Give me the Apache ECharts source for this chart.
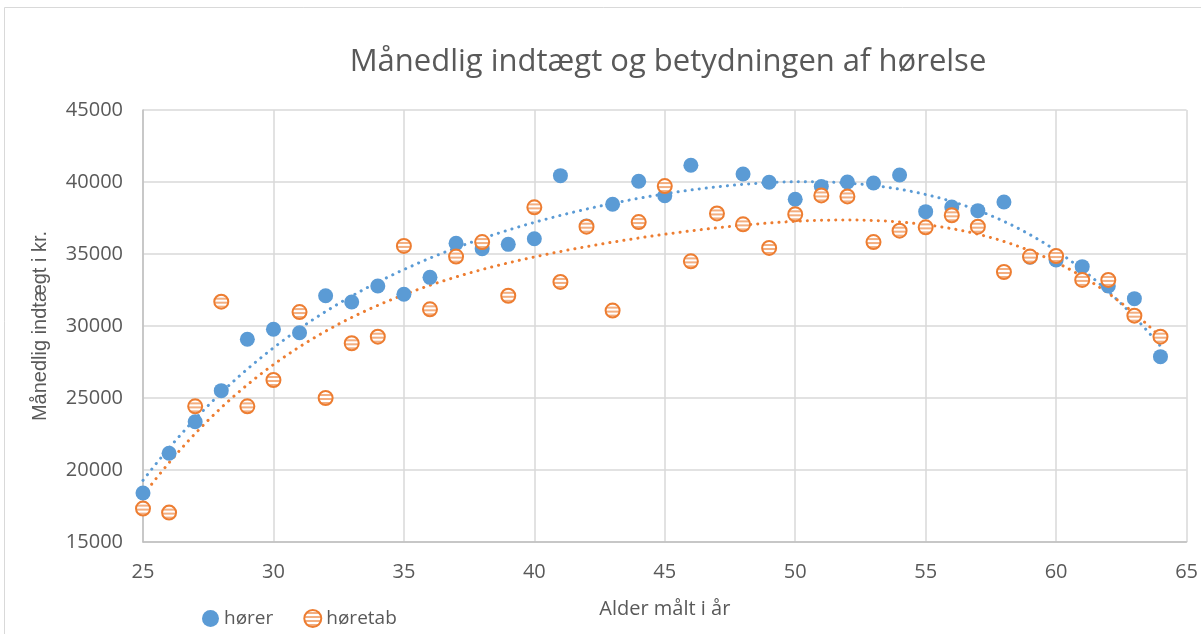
<!DOCTYPE html>
<html>
<head>
<meta charset="utf-8">
<script src="https://cdn.jsdelivr.net/npm/echarts@6/dist/echarts.min.js"></script>
<style>
  html, body { margin: 0; padding: 0; background: #fff; }
  #main { width: 1201px; height: 634px; }
</style>
</head>
<body>
<div id="main"></div>
<script>
// data
var horerAge = [25,26,27,28,29,30,31,32,33,34,35,36,37,38,39,40,41,42,43,44,45,46,48,49,50,51,52,53,54,55,56,57,58,59,60,61,62,63,64];
var horerIncome = [18400,21160,23350,25510,29080,29770,29530,32100,31670,32780,32200,33380,35740,35370,35670,36060,40440,36950,38450,40050,39050,41160,40560,39980,38800,39680,40000,39930,40490,37940,38260,38010,38610,34770,34580,34120,32780,31900,27870];

var tabAge = [25,26,27,28,29,30,31,32,33,34,35,36,37,38,39,40,41,42,43,44,45,46,47,48,49,50,51,52,53,54,55,56,57,58,59,60,61,62,63,64];
var tabIncome = [17320,17040,24420,31690,24420,26250,30970,25000,28800,29260,35560,31160,34820,35830,32100,38240,33060,36900,31070,37220,39720,34490,37820,37060,35420,37760,39070,39000,35830,36620,36850,37690,36900,33750,34820,34860,33200,33200,30720,29260];

var xTicks = [25, 30, 35, 40, 45, 50, 55, 60, 65];
var yTicks = [15000, 20000, 25000, 30000, 35000, 40000, 45000];

var blue = '#5B9BD5';
var orange = '#ED7D31';
var textColor = '#595959';

// least squares polynomial (like the excel trendline)
function polyfit(xs, ys, order) {
  var n = order + 1, A = [], i, j, k;
  for (i = 0; i < n; i++) { A.push([]); for (j = 0; j <= n; j++) A[i].push(0); }
  for (k = 0; k < xs.length; k++) {
    var x = (xs[k] - 45) / 10;
    for (i = 0; i < n; i++) {
      for (j = 0; j < n; j++) A[i][j] += Math.pow(x, i + j);
      A[i][n] += ys[k] * Math.pow(x, i);
    }
  }
  for (i = 0; i < n; i++) {
    var p = i;
    for (j = i + 1; j < n; j++) if (Math.abs(A[j][i]) > Math.abs(A[p][i])) p = j;
    var t = A[i]; A[i] = A[p]; A[p] = t;
    for (j = i + 1; j < n; j++) {
      var f = A[j][i] / A[i][i];
      for (k = i; k <= n; k++) A[j][k] -= f * A[i][k];
    }
  }
  var c = [];
  for (i = n - 1; i >= 0; i--) {
    var s = A[i][n];
    for (j = i + 1; j < n; j++) s -= A[i][j] * c[j];
    c[i] = s / A[i][i];
  }
  return c;
}
function trend(xs, ys, order) {
  var c = polyfit(xs, ys, order), out = [];
  for (var x = xs[0]; x <= xs[xs.length - 1] + 1e-9; x += 0.25) {
    var v = 0;
    for (var i = 0; i < c.length; i++) v += c[i] * Math.pow((x - 45) / 10, i);
    out.push([x, v]);
  }
  return out;
}

function zip(a, b) { return a.map(function (v, i) { return [v, b[i]]; }); }

// striped fill for the høretab markers
// (symbols are drawn at unit size and scaled by size/2, so scale the pattern back)
var tabSize = 14;
var pat = document.createElement('canvas');
pat.width = 4; pat.height = 4;
var pctx = pat.getContext('2d');
pctx.fillStyle = '#ffffff'; pctx.fillRect(0, 0, 4, 4);
pctx.fillStyle = '#F3AE80'; pctx.fillRect(0, 0, 4, 2);

var myChart = echarts.init(document.getElementById('main'));

var option = {
  backgroundColor: '#fff',
  animation: false,
  title: {
    text: 'Månedlig indtægt og betydningen af hørelse',
    left: 663, top: 42, textAlign: 'center',
    textStyle: { fontFamily: 'Open Sans', fontSize: 31, fontWeight: 'normal', color: textColor }
  },
  graphic: [{
    type: 'rect', shape: { x: 4.5, y: 7.5, width: 1210, height: 640 },
    style: { fill: 'none', stroke: '#d9d9d9', lineWidth: 1 }, silent: true
  }],
  legend: {
    data: ['hører', 'høretab'],
    left: 197, top: 604, itemWidth: 17, itemHeight: 17, itemGap: 30,
    textStyle: { fontFamily: 'Open Sans', fontSize: 19, color: textColor }
  },
  grid: { left: 143, right: 14, top: 110, bottom: 92 },
  xAxis: {
    type: 'value', min: 25, max: 65, interval: 5,
    name: 'Alder målt i år', nameLocation: 'middle', nameGap: 57,
    nameTextStyle: { fontFamily: 'Open Sans', fontSize: 20, color: textColor },
    axisLine: { show: true, lineStyle: { color: '#bfbfbf', width: 1.5 } },
    axisTick: { show: false },
    axisLabel: { fontFamily: 'Open Sans', fontSize: 20, color: textColor, margin: 20,
      formatter: function (v) { return xTicks.indexOf(v) >= 0 ? v : ''; } },
    splitLine: { show: true, lineStyle: { color: '#d9d9d9', width: 1.5 } }
  },
  yAxis: {
    type: 'value', min: 15000, max: 45000, interval: 5000,
    name: 'Månedlig indtægt i kr.', nameLocation: 'middle', nameGap: 93,
    nameTextStyle: { fontFamily: 'Liberation Sans', fontSize: 20, color: textColor },
    axisLine: { show: true, lineStyle: { color: '#bfbfbf', width: 1.5 } },
    axisTick: { show: false },
    axisLabel: { fontFamily: 'Open Sans', fontSize: 20, color: textColor, margin: 20,
      formatter: function (v) { return yTicks.indexOf(v) >= 0 ? v : ''; } },
    splitLine: { show: true, lineStyle: { color: '#d9d9d9', width: 1.5 } }
  },
  series: [
    {
      name: 'hører trend', type: 'line', data: trend(horerAge, horerIncome, 4),
      showSymbol: false, smooth: false, z: 3,
      lineStyle: { color: blue, width: 3, type: [0.1, 7], cap: 'round' }
    },
    {
      name: 'høretab trend', type: 'line', data: trend(tabAge, tabIncome, 4),
      showSymbol: false, smooth: false, z: 3,
      lineStyle: { color: orange, width: 3, type: [0.1, 7], cap: 'round' }
    },
    {
      name: 'hører', type: 'scatter', data: zip(horerAge, horerIncome),
      symbol: 'circle', symbolSize: 15, z: 4,
      itemStyle: { color: blue, opacity: 1 }
    },
    {
      name: 'høretab', type: 'scatter', data: zip(tabAge, tabIncome),
      symbol: 'circle', symbolSize: tabSize, z: 5,
      itemStyle: {
        color: { image: pat, repeat: 'repeat', scaleX: 2 / tabSize, scaleY: 2 / tabSize },
        borderColor: orange, borderWidth: 2, opacity: 1
      }
    }
  ]
};
myChart.setOption(option);
</script>
</body>
</html>
